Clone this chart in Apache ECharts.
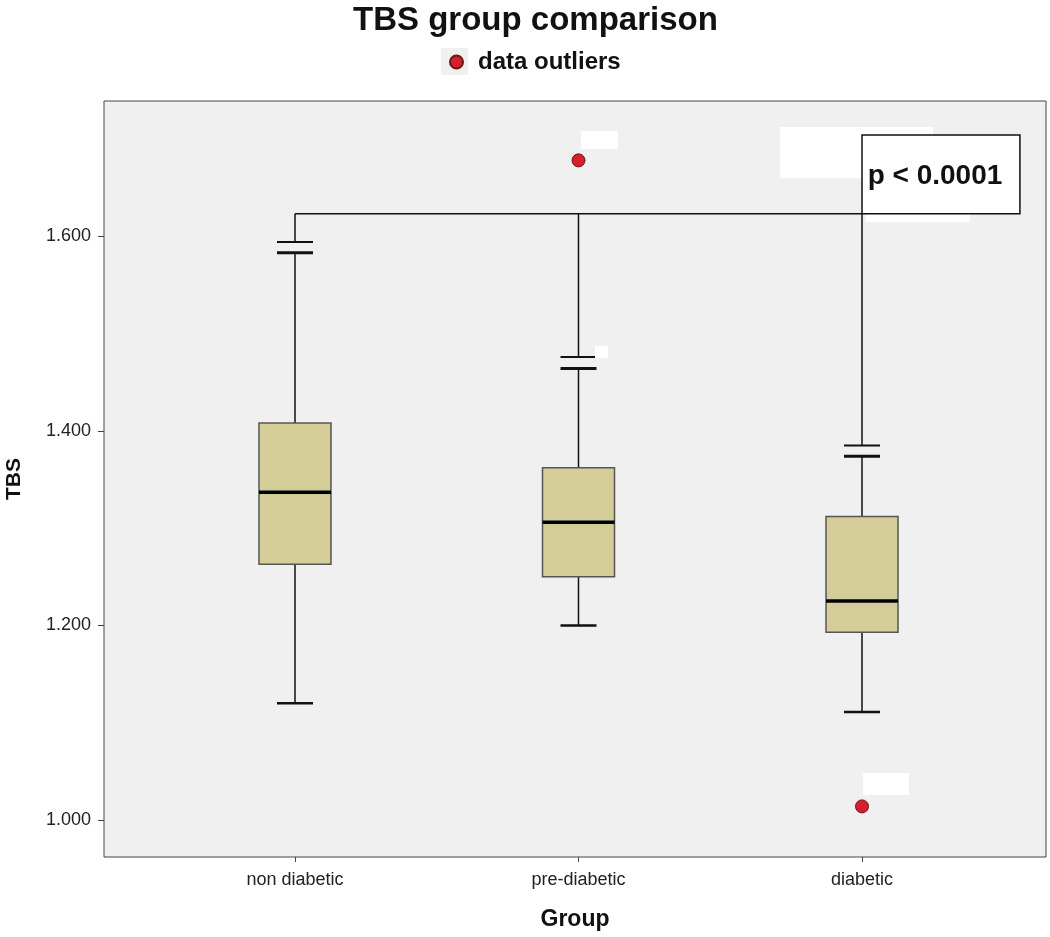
<!DOCTYPE html>
<html>
<head>
<meta charset="utf-8">
<script src="https://cdn.jsdelivr.net/npm/echarts@6/dist/echarts.min.js"></script>
<style>html,body{margin:0;padding:0;background:#fff}#c{width:1050px;height:937px}</style>
</head>
<body>
<div id="c"></div>
<script>
// ---- data ----
const categories = ['non diabetic', 'pre-diabetic', 'diabetic'];
const whiskerLow = [1.120, 1.200, 1.111];
const q1 = [1.263, 1.250, 1.193];
const median = [1.337, 1.306, 1.225];
const q3 = [1.408, 1.362, 1.312];
const whiskerHigh = [1.583, 1.464, 1.374];
const upperCap = [1.594, 1.476, 1.385];
const outlierGroup = [2, 3];
const outlierValue = [1.678, 1.014];
const bracketLevel = 1.623;
const pBoxTop = 1.704;
const pBoxRight = 3.557;
const pLabel = 'p < 0.0001';
const yTicks = [1.0, 1.2, 1.4, 1.6];

const FONT = '"Liberation Sans", Arial, sans-serif';
const boxData = categories.map((c, i) => [i + 1, whiskerLow[i], q1[i], median[i], q3[i], whiskerHigh[i], upperCap[i]]);
const outlierData = outlierGroup.map((g, i) => [g, outlierValue[i]]);

const chart = echarts.init(document.getElementById('c'));
chart.setOption({
  animation: false,
  backgroundColor: '#ffffff',
  title: {
    text: 'TBS group comparison',
    left: 353, top: 4, padding: [0, 0, 0, 0],
    textStyle: { fontFamily: FONT, fontSize: 33, fontWeight: 'bold', color: '#111' }
  },
  legend: {
    data: ['data outliers'],
    left: 449, top: 50, padding: [0, 0, 0, 0],
    itemWidth: 13, itemHeight: 13, itemGap: 8,
    icon: 'circle',
    textStyle: { fontFamily: FONT, fontSize: 24, fontWeight: 'bold', color: '#111', padding: [0, 0, 0, 10] }
  },
  grid: { left: 104, top: 101, right: 4, bottom: 80, outerBoundsMode: 'none', containLabel: false,
    show: true, backgroundColor: '#F0F0F0', borderColor: '#444', borderWidth: 1 },
  xAxis: {
    type: 'value', min: 0.3263, max: 3.649,
    name: 'Group', nameLocation: 'middle', nameGap: 51,
    nameTextStyle: { fontFamily: FONT, fontSize: 23, fontWeight: 'bold', color: '#111' },
    axisLine: { show: false },
    splitLine: { show: false },
    axisTick: { show: true, customValues: [1, 2, 3], length: 5, lineStyle: { color: '#444' } },
    axisLabel: { customValues: [1, 2, 3], formatter: v => categories[Math.round(v) - 1] || '', margin: 14,
      fontFamily: FONT, fontSize: 18, color: '#222' }
  },
  yAxis: {
    type: 'value', min: 0.962, max: 1.739,
    name: 'TBS', nameLocation: 'middle', nameGap: 79,
    nameTextStyle: { fontFamily: FONT, fontSize: 21, fontWeight: 'bold', color: '#111' },
    axisLine: { show: false },
    splitLine: { show: false },
    axisTick: { show: true, customValues: yTicks, length: 6, lineStyle: { color: '#444' } },
    axisLabel: { customValues: yTicks, formatter: v => v.toFixed(3), margin: 13,
      fontFamily: FONT, fontSize: 18, color: '#222' }
  },
  graphic: [
    { type: 'rect', shape: { x: 441, y: 48, width: 27, height: 27 }, style: { fill: '#F0F0F0' }, z: -1 },
    { type: 'rect', shape: { x: 581, y: 131, width: 37, height: 18 }, style: { fill: '#ffffff' }, z: 50 },
    { type: 'rect', shape: { x: 780, y: 127, width: 153, height: 51 }, style: { fill: '#ffffff' }, z: 50 },
    { type: 'rect', shape: { x: 866, y: 180, width: 104, height: 42 }, style: { fill: '#ffffff' }, z: 50 },
    { type: 'rect', shape: { x: 595, y: 346, width: 13, height: 12 }, style: { fill: '#ffffff' }, z: 50 },
    { type: 'rect', shape: { x: 863, y: 773, width: 46, height: 22 }, style: { fill: '#ffffff' }, z: 50 }
  ],
  series: [
    {
      type: 'custom', name: 'boxes', data: boxData, z: 10,
      renderItem: function (params, api) {
        const x = api.value(0);
        const half = 0.127, capHalf = 0.0635;
        const p = (xx, yy) => api.coord([xx, yy]);
        const line = (a, b, w, color) => ({ type: 'line', shape: { x1: a[0], y1: a[1], x2: b[0], y2: b[1] }, style: { stroke: color || '#111', lineWidth: w } });
        const lo = api.value(1), a = api.value(2), m = api.value(3), b = api.value(4), hi = api.value(5), cap = api.value(6);
        const tl = p(x - half, b), br = p(x + half, a);
        return { type: 'group', children: [
          line(p(x, lo), p(x, a), 1.5),
          line(p(x, b), p(x, hi), 1.5),
          line(p(x - capHalf, lo), p(x + capHalf, lo), 2.5),
          line(p(x - capHalf, hi), p(x + capHalf, hi), 3),
          line(p(x - capHalf, cap), p(x + capHalf, cap), 2),
          line(p(x, cap), p(x, bracketLevel), 1.5),
          { type: 'rect', shape: { x: tl[0], y: tl[1], width: br[0] - tl[0], height: br[1] - tl[1] },
            style: { fill: '#D4CD98', stroke: '#555', lineWidth: 1.5 } },
          line(p(x - half, m), p(x + half, m), 3.5, '#000')
        ] };
      }
    },
    {
      type: 'custom', name: 'bracket', data: [[1, 3, bracketLevel, pBoxTop, pBoxRight]], z: 60,
      renderItem: function (params, api) {
        const x1 = api.value(0), x2 = api.value(1), yb = api.value(2), yt = api.value(3), xr = api.value(4);
        const A = api.coord([x1, yb]), B = api.coord([x2, yb]), T = api.coord([x2, yt]), R = api.coord([xr, yb]);
        return { type: 'group', children: [
          { type: 'line', shape: { x1: A[0], y1: A[1], x2: B[0], y2: B[1] }, style: { stroke: '#111', lineWidth: 1.5 } },
          { type: 'rect', shape: { x: T[0], y: T[1], width: R[0] - T[0], height: R[1] - T[1] },
            style: { fill: '#ffffff', stroke: '#111', lineWidth: 1.5 } },
          { type: 'text', x: (T[0] + R[0]) / 2 - 6, y: (T[1] + R[1]) / 2 + 2,
            style: { text: pLabel, font: 'bold 28px ' + FONT, fill: '#111', align: 'center', verticalAlign: 'middle' } }
        ] };
      }
    },
    {
      type: 'scatter', name: 'data outliers', data: outlierData, z: 20,
      symbol: 'circle', symbolSize: 13,
      itemStyle: { color: '#D3202A', borderColor: '#6E1518', borderWidth: 1, opacity: 1 }
    }
  ]
});
</script>
</body>
</html>
